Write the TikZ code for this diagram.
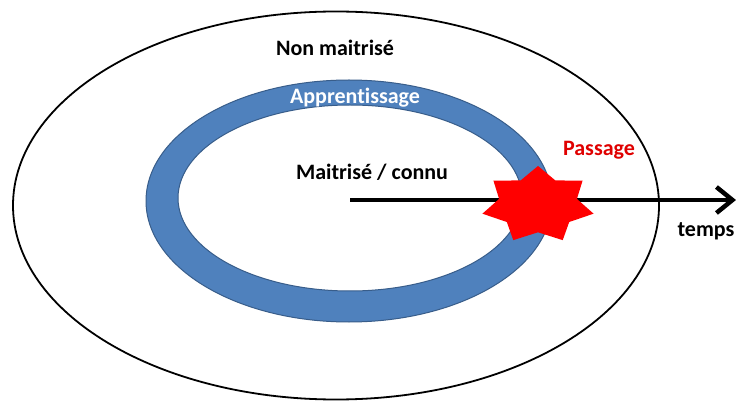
\documentclass[tikz,border=0pt]{standalone}
\usepackage{fontspec}
\setmainfont{Carlito}[RawFeature=-liga]
\usetikzlibrary{arrows.meta}
\definecolor{ringblue}{HTML}{4F81BD}
\definecolor{ringedge}{HTML}{385D8A}
\definecolor{passred}{HTML}{E00000}
\tikzset{
  lbl/.style={font=\fontsize{22}{26}\selectfont\bfseries, inner sep=0pt, anchor=base},
  outerzone/.style={draw=black, line width=1.8pt},
  ringzone/.style={fill=ringblue, draw=ringedge, line width=1pt, even odd rule},
  timearrow/.style={line width=4.5pt, -{Straight Barb[length=16pt,width=26pt]}},
  starred/.style={fill=red}
}
\begin{document}
\begin{tikzpicture}[x=1pt,y=-1pt]
\useasboundingbox (0,0) rectangle (736,403);
\fill[white] (0,0) rectangle (736,403);
% outer zone
\draw[outerzone] (336,205.5) ellipse [x radius=323pt, y radius=194pt];
% learning ring
\path[ringzone] (349,201) ellipse [x radius=203pt, y radius=121pt]
                (350,198) ellipse [x radius=172pt, y radius=93pt];
% labels
\node[lbl] (nonm) at (335,56) {Non maitrisé};
\node[lbl, text=white] (appr) at (355,104) {Apprentissage};
\node[lbl] (maitr) at (372,180) {Maitrisé / connu};
\node[lbl, text=passred] (pass) at (599,156) {Passage};
\node[lbl] (temps) at (706,237) {temps};
% time arrow
\coordinate (tstart) at (350,200);
\coordinate (tend) at (736,200);
\draw[timearrow] (tstart) -- (tend);
% passage star
\begin{scope}[shift={(538,205)}, x=57pt, y=39pt]
\fill[starred] (90:1) \foreach \k in {1,...,6} { -- ({90+\k*51.4286-25.7143}:0.7) -- ({90+\k*51.4286}:1) } -- ({90-25.7143}:0.7) -- cycle;
\end{scope}
\end{tikzpicture}
\end{document}
